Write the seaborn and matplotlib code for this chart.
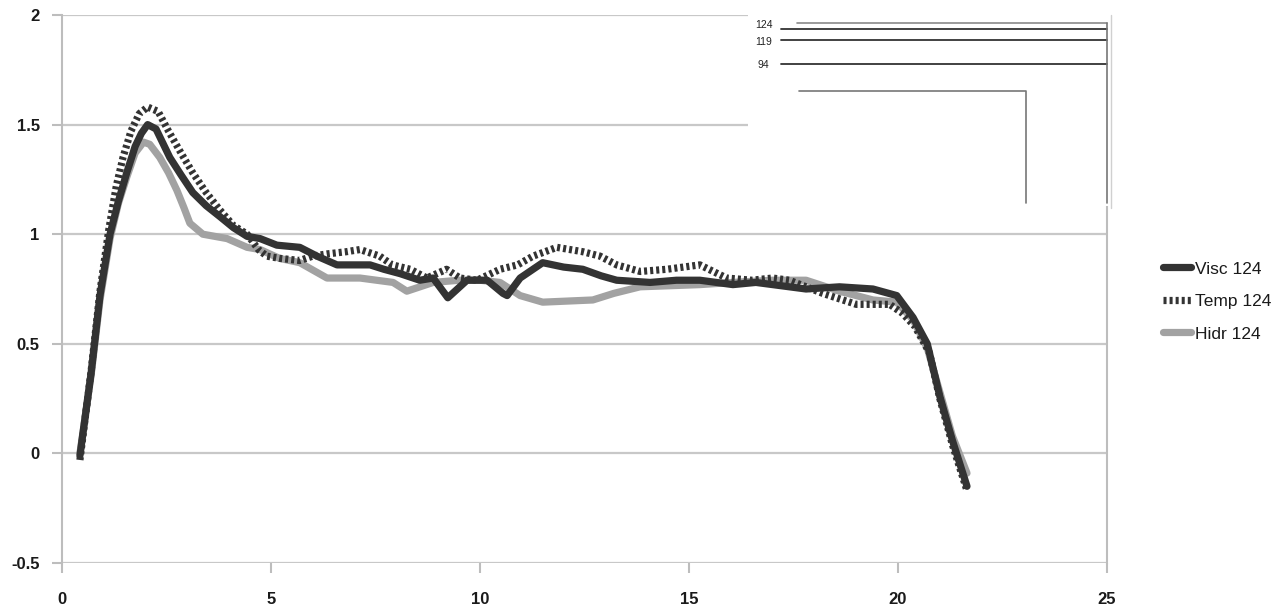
import pandas as pd
import matplotlib
matplotlib.use("Agg")
import matplotlib.pyplot as plt
import seaborn as sns

# series
visc_x = [0.43, 0.70, 0.91, 1.15, 1.35, 1.55, 1.75, 1.90, 2.05, 2.25, 2.58, 2.85, 3.13, 3.45,
          3.78, 4.10, 4.43, 4.74, 5.14, 5.69, 6.10, 6.58, 7.00, 7.37, 7.70, 8.09, 8.56, 8.88,
          9.23, 9.69, 10.17, 10.55, 10.65, 10.96, 11.50, 12.00, 12.46, 12.90, 13.27, 14.07,
          14.70, 15.26, 16.05, 16.60, 17.00, 17.80, 18.60, 19.40, 19.97, 20.36, 20.70, 21.00,
          21.30, 21.65]
visc_y = [-0.01, 0.37, 0.72, 1.00, 1.15, 1.28, 1.40, 1.46, 1.50, 1.48, 1.35, 1.27, 1.19, 1.13,
          1.08, 1.03, 0.99, 0.98, 0.95, 0.94, 0.90, 0.86, 0.86, 0.86, 0.84, 0.82, 0.79, 0.80,
          0.71, 0.79, 0.79, 0.73, 0.72, 0.80, 0.87, 0.85, 0.84, 0.81, 0.79, 0.78,
          0.79, 0.79, 0.77, 0.78, 0.77, 0.75, 0.76, 0.75, 0.72, 0.62, 0.50, 0.26,
          0.06, -0.15]

temp_x = [0.43, 0.70, 0.91, 1.12, 1.30, 1.46, 1.65, 1.85, 2.05, 2.30, 2.55, 2.85, 3.13, 3.45,
          3.78, 4.10, 4.43, 4.70, 4.90, 5.20, 5.69, 6.00, 6.34, 6.80, 7.13, 7.60, 7.90, 8.33,
          8.73, 9.20, 9.52, 9.93, 10.48, 10.90, 11.27, 11.84, 12.46, 12.87, 13.27, 13.83,
          14.47, 15.26, 15.90, 16.50, 17.00, 17.40, 18.20, 19.00, 19.80, 20.10, 20.40, 20.75,
          21.00, 21.30, 21.65]
temp_y = [-0.03, 0.38, 0.74, 1.02, 1.22, 1.35, 1.47, 1.55, 1.58, 1.56, 1.47, 1.37, 1.28, 1.19,
          1.11, 1.04, 1.00, 0.93, 0.90, 0.89, 0.88, 0.90, 0.91, 0.92, 0.93, 0.90, 0.86, 0.84,
          0.80, 0.84, 0.80, 0.79, 0.84, 0.86, 0.90, 0.94, 0.92, 0.90, 0.86, 0.83,
          0.84, 0.86, 0.80, 0.79, 0.80, 0.79, 0.73, 0.68, 0.68, 0.64, 0.58, 0.46,
          0.25, 0.04, -0.17]

hidr_x = [0.43, 0.70, 0.91, 1.15, 1.35, 1.55, 1.75, 1.95, 2.10, 2.34, 2.55, 2.75, 2.92, 3.06,
          3.37, 3.95, 4.43, 4.74, 5.20, 5.69, 6.34, 7.13, 7.92, 8.25, 8.88, 9.50, 10.00,
          10.48, 10.96, 11.50, 12.70, 13.20, 13.83, 15.26, 16.05, 17.00, 17.80, 18.60, 19.40,
          19.97, 20.36, 20.70, 21.00, 21.30, 21.65]
hidr_y = [0.00, 0.36, 0.70, 0.98, 1.14, 1.26, 1.37, 1.42, 1.41, 1.35, 1.28, 1.20, 1.12, 1.05,
          1.00, 0.98, 0.94, 0.93, 0.89, 0.87, 0.80, 0.80, 0.78, 0.74, 0.78, 0.79, 0.79,
          0.78, 0.72, 0.69, 0.70, 0.73, 0.76, 0.77, 0.78, 0.79, 0.79, 0.74, 0.70,
          0.69, 0.61, 0.48, 0.28, 0.08, -0.09]

x_ticks = [0, 5, 10, 15, 20, 25]
y_ticks = [-0.5, 0, 0.5, 1, 1.5, 2]
y_tick_labels = ["-0.5", "0", "0.5", "1", "1.5", "2"]

# leftover dendrogram fragment in the top-right corner
inset_labels = ["124", "119", "94"]
inset_label_y = [0.982, 0.951, 0.909]
inset_levels = [0.9745, 0.9544, 0.9106]

sns.set_style("white")
plt.rcParams['font.family'] = ['Liberation Sans', 'DejaVu Sans']

fig = plt.figure(figsize=(12.88, 6.09), dpi=100)
ax = fig.add_axes([0.0481, 0.0755, 0.8114, 0.8999])

lw = 5.2
sns.lineplot(x=hidr_x, y=hidr_y, ax=ax, sort=False, color="#a2a2a2", lw=lw,
             label="Hidr 124", zorder=2)
sns.lineplot(x=visc_x, y=visc_y, ax=ax, sort=False, color="#333333", lw=lw,
             label="Visc 124", zorder=3)
sns.lineplot(x=temp_x, y=temp_y, ax=ax, sort=False, color="#333333", lw=lw,
             linestyle=(0, (0.42, 0.42)), label="Temp 124", zorder=4)

ax.set_xlim(0, 25)
ax.set_ylim(-0.5, 2)
ax.set_xticks(x_ticks)
ax.set_xticklabels([str(t) for t in x_ticks])
ax.set_yticks(y_ticks)
ax.set_yticklabels(y_tick_labels)
ax.yaxis.grid(True, color="#c8c8c8", lw=1.6)
ax.set_axisbelow(True)
for side in ["top", "bottom"]:
    ax.spines[side].set_visible(False)
for side in ["left", "right"]:
    ax.spines[side].set_color("#bdbdbd")
    ax.spines[side].set_linewidth(1.5)
ax.tick_params(axis="both", which="both", length=7, width=1.5, color="#bdbdbd",
               labelsize=12, labelcolor="#1a1a1a")
ax.tick_params(axis="y", pad=9, left=True)
ax.tick_params(axis="x", pad=14, bottom=True)
for t in ax.get_xticklabels() + ax.get_yticklabels():
    t.set_fontweight("bold")
ax.set_xlabel("")
ax.set_ylabel("")

# white patch with the dendrogram fragment
ax.add_patch(plt.Rectangle((0.6565, 0.6515), 0.3473, 0.352, transform=ax.transAxes,
                           facecolor="white", edgecolor="none", zorder=5, clip_on=False))
ax.plot([1.0038, 1.0038], [1.0, 0.648], transform=ax.transAxes, color="#d0d0d0", lw=1,
        zorder=6, clip_on=False)
ax.plot([0.7033, 1.0], [0.986, 0.986], transform=ax.transAxes, color="#8a8a8a", lw=1.2,
        zorder=6, clip_on=False)
for lab, ly, lev in zip(inset_labels, inset_label_y, inset_levels):
    ax.text(0.6715, ly, lab, transform=ax.transAxes, fontsize=7.5, ha="center",
            va="center", color="#222222", zorder=6)
    ax.plot([0.688, 1.0], [lev, lev], transform=ax.transAxes, color="#333333", lw=1.3,
            zorder=6, clip_on=False)
ax.plot([0.7053, 0.9225, 0.9225], [0.8613, 0.8613, 0.6569], transform=ax.transAxes,
        color="#777777", lw=1.2, zorder=6, clip_on=False)
ax.plot([1.0, 1.0], [0.986, 0.6569], transform=ax.transAxes, color="#777777", lw=1.2,
        zorder=6, clip_on=False)

handles, labels = ax.get_legend_handles_labels()
order = [labels.index("Visc 124"), labels.index("Temp 124"), labels.index("Hidr 124")]
ax.legend([handles[i] for i in order], [labels[i] for i in order],
          loc="center left", bbox_to_anchor=(0.891, 0.505), bbox_transform=fig.transFigure,
          frameon=False, fontsize=12.5, handlelength=1.6, handletextpad=0.25,
          labelspacing=1.0, labelcolor="#1a1a1a")

fig.savefig("out.png", dpi=100)
